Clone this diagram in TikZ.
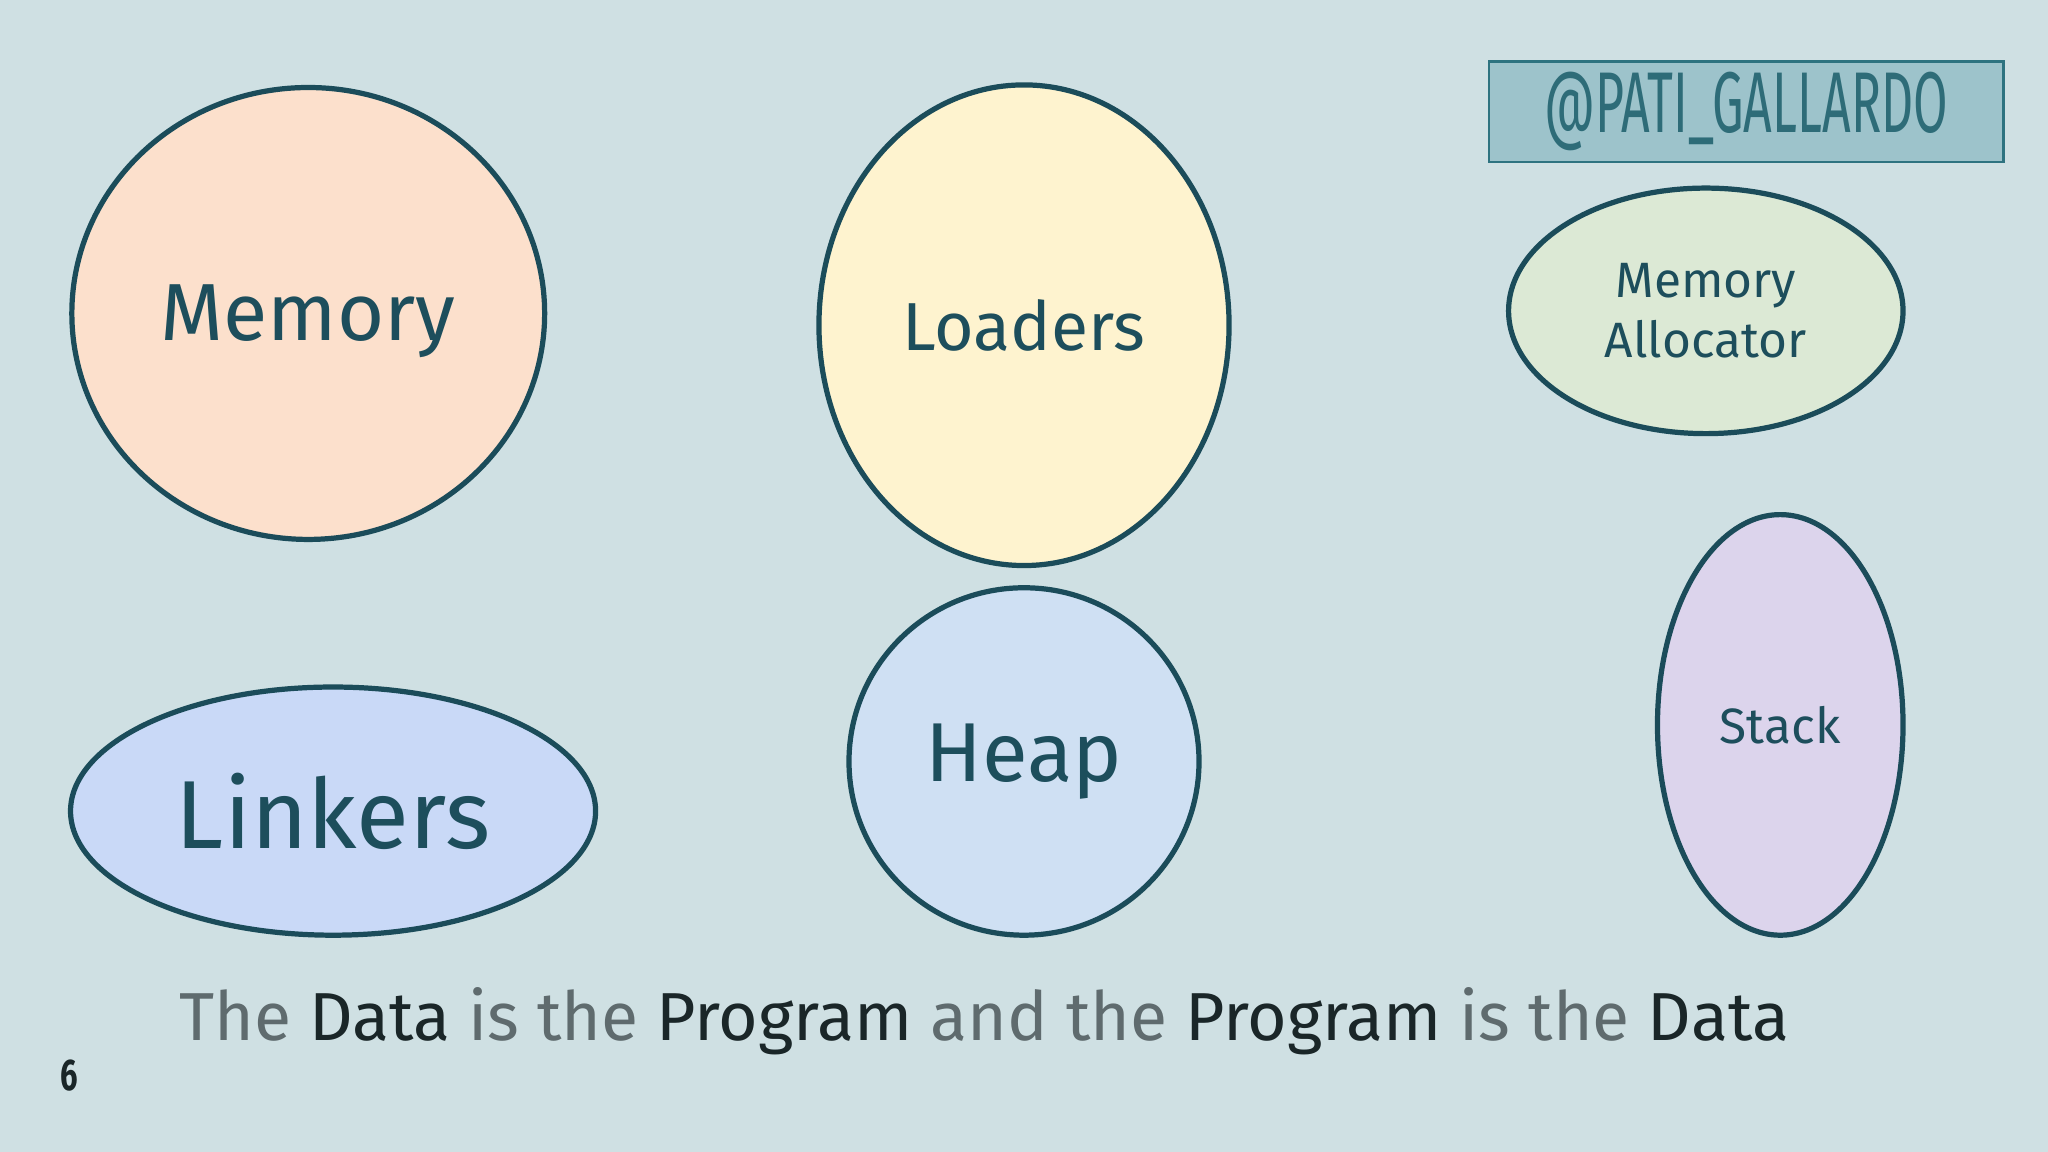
\documentclass[tikz,border=0pt]{standalone}
\usepackage{fontspec}
\setmainfont{Fira Sans}
\usetikzlibrary{shapes.geometric}
\definecolor{bg}{HTML}{CFE0E3}
\definecolor{edge}{HTML}{1B4C5A}
\definecolor{txt}{HTML}{1D4E5C}
\definecolor{gr}{HTML}{5F6B6E}
\definecolor{dk}{HTML}{1A2628}
\definecolor{cmem}{HTML}{FCE0CC}
\definecolor{cload}{HTML}{FEF3CF}
\definecolor{calloc}{HTML}{DCE9D5}
\definecolor{cstack}{HTML}{DCD4EC}
\definecolor{cheap}{HTML}{CFE0F3}
\definecolor{clink}{HTML}{C9D9F7}
\definecolor{hbord}{HTML}{2E7380}
\definecolor{hfill}{HTML}{9DC3CB}
\definecolor{htxt}{HTML}{2E6C78}
\tikzset{
 blob/.style={ellipse,draw=edge,line width=2pt,inner sep=0pt,text=txt},
}
\begin{document}
\begin{tikzpicture}[x=0.5pt,y=-0.5pt]
\fill[bg] (0,0) rectangle (1568,882);
\useasboundingbox (0,0) rectangle (1568,882);
\node[blob,fill=cmem,minimum width=181pt,minimum height=173pt] (mem) at (236,240) {};
\node[text=txt,font=\fontsize{31}{36}\selectfont] (memt) at (236,246) {Memory};
\node[blob,fill=cload,minimum width=157pt,minimum height=184pt,font=\fontsize{26}{30}\selectfont] (load) at (784,249) {Loaders};
\node[blob,fill=calloc,minimum width=151pt,minimum height=94pt,font=\fontsize{19}{23}\selectfont,align=center] (alloc) at (1306,238) {Memory\\Allocator};
\node[blob,fill=cstack,minimum width=94pt,minimum height=161pt,font=\fontsize{19}{24}\selectfont] (stack) at (1363,555) {Stack};
\node[blob,fill=cheap,minimum width=134pt,minimum height=133pt,font=\fontsize{32}{38}\selectfont] (heap) at (784,583) {Heap};
\node[blob,fill=clink,minimum width=201pt,minimum height=95pt,font=\fontsize{37}{44}\selectfont] (link) at (255,621) {Linkers};
\node[draw=hbord,line width=1pt,fill=hfill,minimum width=197pt,minimum height=38.5pt,text=htxt,font=\fontsize{33}{36}\selectfont\addfontfeatures{FakeStretch=0.58}] (handle) at (1337,85.5) {@PATI\_GALLARDO};
\node[anchor=base west,inner sep=0pt,font=\fontsize{26}{32}\selectfont,text=gr] (tag) at (137,797) {The \textcolor{dk}{Data} is the \textcolor{dk}{Program} and the \textcolor{dk}{Program} is the \textcolor{dk}{Data}};
\node[anchor=base,inner sep=0pt,font=\fontsize{17}{20}\selectfont\bfseries\addfontfeatures{FakeStretch=0.7},text=dk] (pg) at (53,835) {6};
\end{tikzpicture}
\end{document}
